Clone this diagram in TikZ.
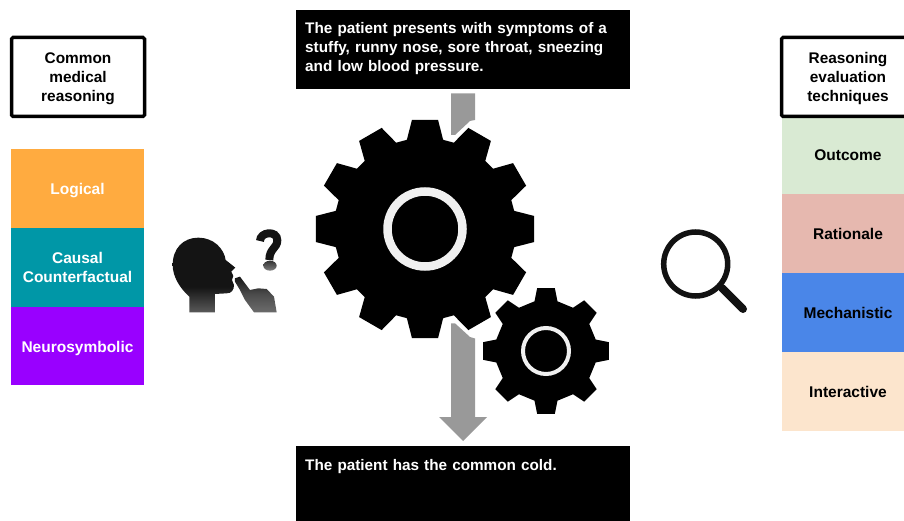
\documentclass[tikz,border=0pt]{standalone}
\usepackage{fontspec}
\setmainfont{Liberation Sans}
\pgfdeclareverticalshading{headfade}{100bp}{color(0bp)=(black!50); color(25bp)=(black!65); color(42bp)=(black!92); color(100bp)=(black!92)}
\pgfdeclareverticalshading{handfade}{100bp}{color(0bp)=(black!50); color(30bp)=(black!60); color(50bp)=(black!70); color(75bp)=(black!92); color(100bp)=(black!92)}
\newcommand{\gearpath}[8]{% cx cy teeth Rtip Rroot halfTip halfBase fill
  \fill[#8] \foreach \k in {1,...,#3} {
    \pgfextra{\pgfmathsetmacro{\ang}{360*\k/#3}}
    {\ifnum\k=1 ({#1+#5*cos(\ang-#7)},{#2+#5*sin(\ang-#7)})\else -- ({#1+#5*cos(\ang-#7)},{#2+#5*sin(\ang-#7)})\fi}
    -- ({#1+#4*cos(\ang-#6)},{#2+#4*sin(\ang-#6)})
    -- ({#1+#4*cos(\ang+#6)},{#2+#4*sin(\ang+#6)})
    -- ({#1+#5*cos(\ang+#7)},{#2+#5*sin(\ang+#7)})
  } -- cycle;}
\tikzset{
  x=1pt,y=-1pt,
  labelbox/.style={draw=black,line width=3.5pt,rounded corners=1.5pt,fill=white,align=center,font=\fontsize{15.4}{19}\selectfont\bfseries,inner sep=0pt,minimum height=79pt},
  lefttile/.style={fill=#1,text=white,align=center,font=\fontsize{15.5}{18.2}\selectfont\bfseries,inner sep=0pt,minimum width=133pt},
  righttile/.style={fill=#1,text=black,align=center,font=\fontsize{15.5}{18.5}\selectfont\bfseries,inner sep=0pt,minimum width=132pt,minimum height=79pt},
  blackbox/.style={fill=black,inner sep=0pt,minimum width=334pt},
  boxtext/.style={text=white,anchor=north west,align=left,text width=322pt,inner sep=0pt,font=\fontsize{15.3}{19}\selectfont\bfseries},
  blockarrow/.style={fill=black!40},
  ring/.style={draw=black!6,fill=none},
}
\definecolor{corange}{HTML}{FFAB40}
\definecolor{cteal}{HTML}{0097A7}
\definecolor{cpurple}{HTML}{9900FF}
\definecolor{cgreen}{HTML}{D9EAD3}
\definecolor{cred}{HTML}{E6B8AF}
\definecolor{cblue}{HTML}{4A86E8}
\definecolor{cpeach}{HTML}{FCE5CD}
\begin{document}
\begin{tikzpicture}
\useasboundingbox (0,0) rectangle (904,521);
% left column
\node[labelbox,minimum width=133pt] (lefthead) at (78,77) {\rule{0pt}{15pt}Common\\medical\\reasoning};
\node[lefttile=corange,minimum height=79pt] (logical) at (77.5,188.5) {\rule{0pt}{15pt}Logical};
\node[lefttile=cteal,minimum height=79pt] (causal) at (77.5,267.5) {Causal\\Counterfactual};
\node[lefttile=cpurple,minimum height=78pt] (neuro) at (77.5,346) {\rule{0pt}{16pt}Neurosymbolic};
% right column
\node[righttile=cgreen] (outcome) at (848,155) {Outcome};
\node[righttile=cred] (rationale) at (848,234) {Rationale};
\node[righttile=cblue] (mech) at (848,312.5) {Mechanistic};
\node[righttile=cpeach] (inter) at (848,391.5) {Interactive};
\node[labelbox,minimum width=133pt] (righthead) at (848,77) {\rule{0pt}{15pt}Reasoning\\evaluation\\techniques};
% black boxes
\node[blackbox,minimum height=79pt,anchor=north west] (topbox) at (296,10) {};
\node[boxtext] (toptext) at (305,22) {The patient presents with symptoms of a\\stuffy, runny nose, sore throat, sneezing\\and low blood pressure.};
\node[blackbox,minimum height=75pt,anchor=north west] (botbox) at (296,446) {};
\node[boxtext] (bottext) at (305,459) {The patient has the common cold.};
% block arrows, cut around the gear
\fill[blockarrow] (451,93.3) -- (475,93.3) -- (475,120) -- (470,121) -- (455,135) -- (451,135) -- cycle;
\fill[blockarrow] (451,323.3) -- (455,323.3) -- (470,337) -- (475,338.5) -- (475,417) -- (487,417) -- (463,441) -- (439,417) -- (451,417) -- cycle;
% gears
\gearpath{425}{229}{12}{110}{91}{6.8}{11.5}{black}
\draw[ring,line width=8.5pt] (425,229) circle[radius=37.5];
\gearpath{546}{351}{8}{63.5}{51}{8}{13}{black}
\draw[ring,line width=4pt] (546,351) circle[radius=23];
% thinking head (traced at 3x about its corner)
\begin{scope}[shift={(160,215)},x=0.3333pt,y=-0.3333pt]
\shade[shading=headfade] (88,292) -- (88,245) .. controls (60,220) and (38,185) .. (38,150)
  .. controls (38,100) and (70,68) .. (115,68) .. controls (160,68) and (192,100) .. (197,135)
  -- (226,158) -- (214,170) -- (220,183) -- (216,195) -- (222,210)
  .. controls (222,225) and (215,235) .. (200,235) -- (165,237) -- (165,292) -- cycle;
\shade[shading=handfade] (225,190) -- (240,185) -- (270,225) -- (295,220) -- (320,222) -- (342,245)
  -- (350,292) -- (282,292) -- (255,255) -- (240,225) -- (225,200) -- cycle;
\draw[black!92,line width=8pt] (300,78) .. controls (300,50) and (352,45) .. (352,76)
  .. controls (352,100) and (328,100) .. (328,135);
\shade[top color=black!80,bottom color=black!50] (330,152) ellipse[x radius=20,y radius=15];
\end{scope}
% magnifier
\draw[black!93,line width=5.5pt] (695.7,264) circle[radius=32];
\draw[black!93,line width=8pt,line cap=round] (722,288) -- (743,309);
\end{tikzpicture}
\end{document}
